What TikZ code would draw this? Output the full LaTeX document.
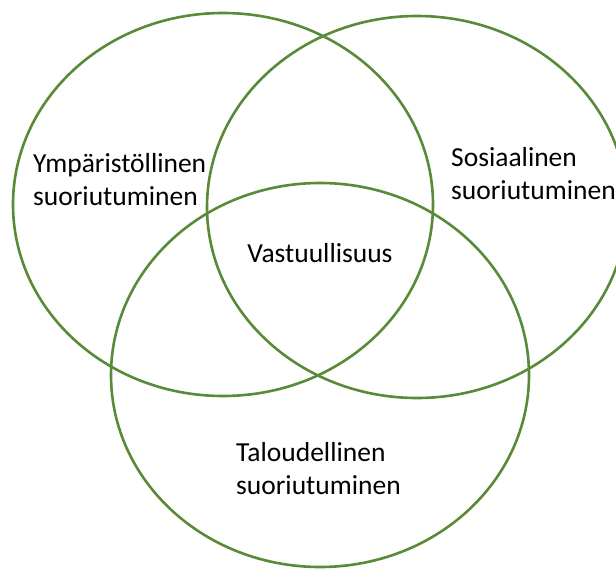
\documentclass[tikz,border=0pt]{standalone}
\usepackage{fontspec}
\setmainfont{Carlito}
\usepackage{xcolor}
\usetikzlibrary{shapes.geometric, positioning}

\definecolor{vennvihrea}{RGB}{88,138,56}
\tikzset{
  piiri/.style={draw=vennvihrea, line width=2.6pt, ellipse, inner sep=0pt},
  teksti/.style={align=left, font=\fontsize{27.5}{33}\selectfont, inner sep=0pt}
}

\begin{document}
\begin{tikzpicture}[x=1pt, y=-1pt]
  \useasboundingbox (0,0) rectangle (616,570);
  % kolme suoriutumisen osa-aluetta
  \node[piiri, minimum width=420pt, minimum height=383pt] (ymp) at (223,204.5) {};
  \node[piiri, minimum width=420pt, minimum height=382pt] (sos) at (417,207) {};
  \node[piiri, minimum width=418pt, minimum height=384pt] (tal) at (320,375) {};

  \node[teksti, anchor=west] (ymplabel) at (33,180) {Ympäristöllinen\\suoriutuminen};
  \node[teksti, anchor=west] (soslabel) at (451,174) {Sosiaalinen\\suoriutuminen};
  \node[teksti] (vastuu) at (320,253) {Vastuullisuus};
  \node[teksti, anchor=west] (tallabel) at (236,469) {Taloudellinen\\suoriutuminen};
\end{tikzpicture}
\end{document}
